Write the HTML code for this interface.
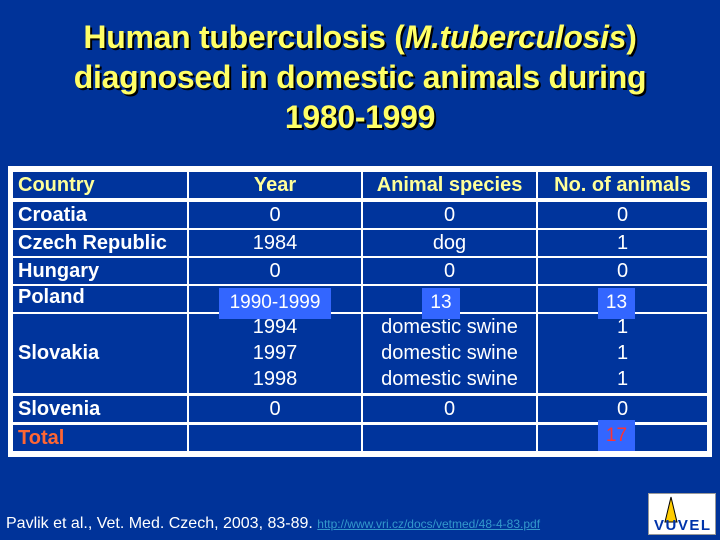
<!DOCTYPE html>
<html><head><meta charset="utf-8"><style>
body{margin:0;width:720px;height:540px;background:#003399;position:relative;overflow:hidden;font-family:"Liberation Sans",sans-serif}
.t{position:absolute;left:0;width:720px;text-align:center;color:#ffff66;font-weight:bold;font-size:32px;line-height:40px;text-shadow:2px 2px 0 #000;letter-spacing:-0.3px}
#tbl{position:absolute;left:8px;top:166px;width:704px;height:291px;background:#fff}
.c{position:absolute;background:#00349c;color:#fff;font-size:20px;line-height:26px}
.hd{color:#ffff99;font-weight:bold}
.b{font-weight:bold}
.hl{position:absolute;background:#3366ff;color:#fff;font-size:19px;text-align:center}
</style></head><body>
<div class="t" style="top:17px">Human tuberculosis (<i>M.tuberculosis</i>)</div>
<div class="t" style="top:57px">diagnosed in domestic animals during</div>
<div class="t" style="top:97px">1980-1999</div>
<div id="tbl"></div>
<div class="hl" style="left:219px;top:288px;width:112px;height:31px;line-height:29px">1990-1999</div>
<div class="hl" style="left:422px;top:288px;width:38px;height:31px;line-height:29px">13</div>
<div class="hl" style="left:598px;top:288px;width:37px;height:31px;line-height:29px">13</div>
<div class="hl" style="left:598px;top:420px;width:37px;height:31px;line-height:31px;color:#ff3333">17</div>
<div style="position:absolute;left:6px;top:515px;color:#fff;font-size:16px;white-space:nowrap">Pavlik et al., Vet. Med. Czech, 2003, 83-89. <span style="color:#3399cc;text-decoration:underline;font-size:12px">http://www.vri.cz/docs/vetmed/48-4-83.pdf</span></div>
<div style="position:absolute;left:648px;top:493px;width:68px;height:42px;background:#fff;border:1px solid #999;box-sizing:border-box">
<svg width="66" height="40"><polygon points="22,3 16,28 28,28" fill="#ffcc00" stroke="#000"/><text x="33" y="36" text-anchor="middle" font-family="Liberation Sans" font-weight="bold" font-size="15" fill="#0033aa" textLength="56">VUVEL</text></svg></div>
<script>
const cols=[13,187,361,536,707];
const rows=[[172,198],[202,228],[230,256],[258,284],[286,312],[314,393],[396,422],[425,451]];
const data=[
 [["Country"],["Year"],["Animal species"],["No. of animals"]],
 [["Croatia"],["0"],["0"],["0"]],
 [["Czech Republic"],["1984"],["dog"],["1"]],
 [["Hungary"],["0"],["0"],["0"]],
 [["Poland"],[""],[""],[""]],
 [["Slovakia"],["1994","1997","1998"],["domestic swine","domestic swine","domestic swine"],["1","1","1"]],
 [["Slovenia"],["0"],["0"],["0"]],
 [["Total"],[""],[""],[""]]];
rows.forEach((r,i)=>{for(let j=0;j<4;j++){
 const d=document.createElement('div');
 
 
 d.className='c'+(i==0?' hd':(j==0?' b':''));
 d.style.left=(cols[j]+(j?2:0))+'px';d.style.top=r[0]+'px';
 d.style.width=(cols[j+1]-cols[j]-(j?2:0))+'px';d.style.height=(r[1]-r[0])+'px';
 const lines=data[i][j];
 if(j==0){d.style.paddingLeft='5px';d.style.boxSizing='border-box';}else d.style.textAlign='center';
 if(i==5&&j==0)d.style.lineHeight=(r[1]-r[0])+'px';
 if(i==4&&j==0)d.style.lineHeight='22px';
 d.innerHTML=lines.join('<br>');
 if(i==7&&j==0)d.style.color='#ff6633';
 document.body.insertBefore(d,document.querySelector('.hl'));
}});
</script>
</body></html>
